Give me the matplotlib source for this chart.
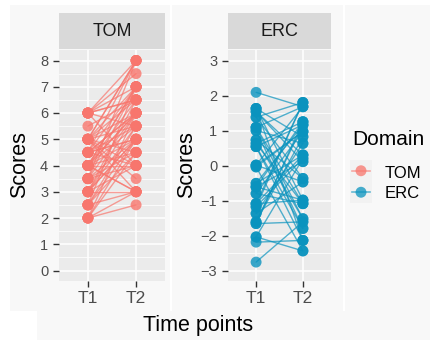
import matplotlib
matplotlib.use("Agg")
import matplotlib.pyplot as plt
from matplotlib.patches import Rectangle
from matplotlib.lines import Line2D

plt.rcParams['font.family'] = ['Liberation Sans', 'DejaVu Sans']

# ------------------------------------------------------------
# Data
# ------------------------------------------------------------

time_points = ["T1", "T2"]
domains = ["TOM", "ERC"]

tom_t1 = [2.0, 2.0, 2.0, 2.0, 2.5, 2.5, 2.5, 3.0, 3.0, 3.0, 3.0, 3.5, 3.5, 3.5, 3.5,
          4.0, 4.0, 4.0, 4.0, 4.0, 4.0, 4.5, 4.5, 4.5, 4.5, 4.5, 5.0, 5.0, 5.0, 5.0,
          5.0, 5.0, 5.5, 6.0, 6.0, 6.0, 6.0, 4.0, 5.0, 3.0, 4.5, 3.5, 2.5, 6.0, 5.0, 4.0,
          2.0, 3.0, 4.0, 4.5, 5.0, 6.0, 3.5, 4.0, 2.5, 5.0, 4.5, 3.0, 6.0, 4.0]
tom_t2 = [2.5, 3.0, 4.5, 6.0, 3.0, 5.0, 7.0, 4.0, 5.5, 6.5, 3.0, 4.5, 6.0, 8.0, 5.0,
          4.0, 5.0, 6.5, 7.0, 3.0, 6.0, 5.5, 4.0, 8.0, 6.0, 5.0, 7.0, 6.0, 4.5, 3.5,
          8.0, 5.5, 6.5, 8.0, 7.5, 7.0, 4.0, 5.5, 6.5, 5.0, 7.0, 4.0, 5.5, 6.5, 3.0, 4.5,
          5.0, 6.0, 7.0, 5.0, 4.0, 6.5, 7.0, 3.0, 4.5, 8.0, 6.0, 5.0, 5.5, 6.0]

erc_t1 = [2.09, 1.63, 1.54, 1.38, 1.09, 1.00, 0.73, 0.63, 0.54, 0.01, -0.04, -0.51,
          -0.61, -0.80, -1.09, -1.18, -1.37, -1.61, -1.66, -2.04, -2.19, -2.76,
          1.63, 1.09, 0.63, 0.01, -0.61, -1.09, -1.37, -1.61, 0.73, -0.51, 1.38,
          -0.04, 0.54, -1.18, 1.54,
          1.00, -0.80, -2.04, 0.01, 1.63, -1.66, -0.61, 0.54, -1.09, 1.09]
erc_t2 = [1.68, -0.99, 0.30, 1.80, -1.52, 0.63, -0.37, 1.25, -1.80, 0.97, -2.44, 1.16,
          0.11, -1.09, 1.80, 0.20, -0.47, 0.82, -1.61, -2.44, -2.14, -1.61,
          0.82, 1.68, -1.09, -0.47, 1.25, -0.99, 0.63, 1.16, -1.52, 0.30, -0.37,
          0.97, -2.14, 1.80, 0.11,
          -1.80, 0.97, 0.20, 1.68, -2.14, 1.25, -0.99, 1.16, 0.30, -1.09]

tom_ticks = [0, 1, 2, 3, 4, 5, 6, 7, 8]
erc_ticks = [-3, -2, -1, 0, 1, 2, 3]

colors = {"TOM": "#F8766D", "ERC": "#0A93BE"}

# ------------------------------------------------------------
# Layout helpers (pixel -> figure fraction)
# ------------------------------------------------------------

W, H = 431, 340


def fx(px):
    return px / W


def fy(py):
    return 1 - py / H


def box(x0, y0, x1, y1):
    return [fx(x0), fy(y1), fx(x1) - fx(x0), fy(y0) - fy(y1)]


fig = plt.figure(figsize=(W / 100, H / 100), dpi=100)
fig.patch.set_facecolor("white")

# light grey backdrop blocks of the pasted figure
for x0, y0, x1, y1 in [(10, 5, 170, 311), (172, 5, 343, 311),
                       (345, 5, 431, 311), (37, 311, 431, 340)]:
    fig.patches.append(Rectangle((fx(x0), fy(y1)), fx(x1) - fx(x0), fy(y0) - fy(y1),
                                 transform=fig.transFigure, facecolor="#F8F8F8",
                                 edgecolor="none", zorder=-10))


def panel(rect, strip_rect, t1, t2, color, name, ylim, yticks, minor):
    ax = fig.add_axes(rect)
    ax.set_facecolor("#EBEBEB")
    for s in ax.spines.values():
        s.set_visible(False)

    for a, b in zip(t1, t2):
        ax.plot([1, 2], [a, b], color=color, linewidth=1.0, alpha=0.7,
                solid_capstyle="round", zorder=2)
    ax.scatter([1] * len(t1), t1, s=62, color=color, alpha=0.8,
               edgecolors="none", zorder=3)
    ax.scatter([2] * len(t2), t2, s=62, color=color, alpha=0.8,
               edgecolors="none", zorder=3)

    ax.set_xlim(0.4, 2.6)
    ax.set_ylim(*ylim)
    ax.set_xticks([1, 2])
    ax.set_xticklabels(time_points)
    ax.set_yticks(yticks)
    ax.set_yticks(minor, minor=True)
    ax.yaxis.set_major_formatter(
        matplotlib.ticker.FuncFormatter(lambda v, p: str(int(v)).replace("-", "\u2212")))
    ax.grid(True, which="major", color="white", linewidth=1.1, zorder=0)
    ax.grid(True, which="minor", axis="y", color="white", linewidth=0.55, zorder=0)
    ax.set_axisbelow(True)
    ax.tick_params(axis="y", which="minor", length=0)
    ax.tick_params(axis="y", which="major", length=4.3, width=1.0, color="#333333",
                   labelcolor="#4D4D4D", labelsize=10.5, pad=3.5)
    ax.tick_params(axis="x", length=4.3, width=1.0, color="#333333",
                   labelcolor="#4D4D4D", labelsize=12.5, pad=3)

    st = fig.add_axes(strip_rect)
    st.set_facecolor("#D9D9D9")
    st.set_xticks([])
    st.set_yticks([])
    for s in st.spines.values():
        s.set_visible(False)
    st.text(0.5, 0.5, name, ha="center", va="center", fontsize=13, color="#1A1A1A",
            transform=st.transAxes)
    return ax


tom_minor = [v + 0.5 for v in tom_ticks[:-1]]
erc_minor = [v + 0.5 for v in erc_ticks[:-1]]

panel(box(59, 50, 165, 281), box(59, 13, 165, 49), tom_t1, tom_t2, colors["TOM"],
      "TOM", (-0.4, 8.4), tom_ticks, tom_minor)
panel(box(228, 50, 331, 281), box(228, 13, 331, 49), erc_t1, erc_t2, colors["ERC"],
      "ERC", (-3.3, 3.3), erc_ticks, erc_minor)

# axis titles
fig.text(fx(20), fy(165), "Scores", rotation=90, ha="center", va="center", fontsize=15.5)
fig.text(fx(187), fy(165), "Scores", rotation=90, ha="center", va="center", fontsize=15.5)
fig.text(fx(198), fy(331), "Time points", ha="center", va="baseline", fontsize=15.5)

# legend
fig.text(fx(352), fy(145), "Domain", ha="left", va="baseline", fontsize=15)
key = fig.add_axes(box(350, 160, 372, 203))
key.set_facecolor("#F2F2F2")
key.set_xlim(0, 1)
key.set_ylim(0, 2)
key.set_xticks([])
key.set_yticks([])
for s in key.spines.values():
    s.set_visible(False)
for i, d in enumerate(domains):
    yk = 1.5 - i
    key.add_line(Line2D([0.1, 0.9], [yk, yk], color=colors[d], alpha=0.6, linewidth=1.2))
    key.scatter([0.5], [yk], s=62, color=colors[d], alpha=0.75, edgecolors="none")
    fig.text(fx(385), fy(177.5 + 21 * i), d, ha="left", va="baseline", fontsize=12)

fig.savefig("out.png", dpi=100)
